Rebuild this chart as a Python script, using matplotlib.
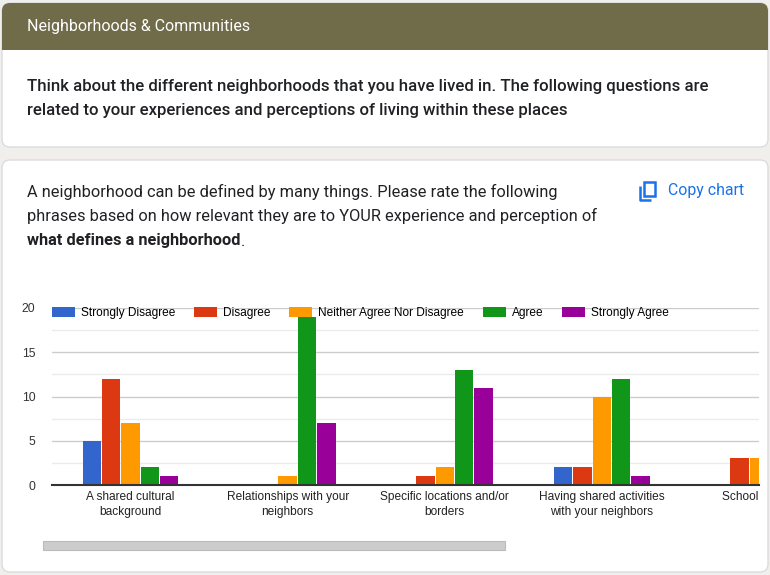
import numpy as np
import matplotlib
matplotlib.use("Agg")
import matplotlib.pyplot as plt
from matplotlib.patches import FancyBboxPatch, Rectangle
from matplotlib.transforms import Bbox, TransformedBbox

# data
categories = ["A shared cultural\nbackground",
              "Relationships with your\nneighbors",
              "Specific locations and/or\nborders",
              "Having shared activities\nwith your neighbors",
              "School district"]
series = ["Strongly Disagree", "Disagree", "Neither Agree Nor Disagree",
          "Agree", "Strongly Agree"]
strongly_disagree = [5, 0, 0, 2, 0]
disagree = [12, 0, 1, 2, 3]
neutral = [7, 1, 2, 10, 3]
agree = [2, 19, 13, 12, 0]
strongly_agree = [1, 7, 11, 1, 0]
colors = ["#3366cc", "#dc3912", "#ff9900", "#109618", "#990099"]

W, H = 770, 575
fig = plt.figure(figsize=(W / 100, H / 100), dpi=100)
fig.patch.set_facecolor("#f0efeb")

# page overlay in pixel coordinates
bg = fig.add_axes([0, 0, 1, 1])
bg.set_xlim(0, W)
bg.set_ylim(H, 0)
bg.axis("off")

def card(x0, y0, x1, y1):
    bg.add_patch(FancyBboxPatch((x0, y0), x1 - x0, y1 - y0,
                                boxstyle="round,pad=0,rounding_size=8",
                                fc="white", ec="#dadce0", lw=1))

card(2, 3, 768, 147)
bg.add_patch(FancyBboxPatch((2, 3), 766, 47, boxstyle="round,pad=0,rounding_size=8",
                            fc="#706b48", ec="none"))
bg.add_patch(Rectangle((2, 30), 766, 20, fc="#706b48", ec="none"))
card(2, 160, 768, 572)

font = "Roboto"
bg.text(27, 26, "Neighborhoods & Communities", color="white", fontsize=11.5,
        family=font, va="center")
bg.text(27, 87, "Think about the different neighborhoods that you have lived in. "
        "The following questions are", color="#202124", fontsize=12.1,
        family=font, weight="medium", va="center")
bg.text(27, 110, "related to your experiences and perceptions of living within these places",
        color="#202124", fontsize=12.1, family=font, weight="medium", va="center")

bg.text(27, 192, "A neighborhood can be defined by many things. Please rate the following",
        color="#202124", fontsize=11.8, family=font, va="center")
bg.text(27, 216, "phrases based on how relevant they are to YOUR experience and perception of",
        color="#202124", fontsize=11.8, family=font, va="center")
bold = bg.text(27, 241, "what defines a neighborhood", color="#202124", fontsize=11.8,
               family=font, weight="bold", va="center")
r = fig.canvas.get_renderer()
bb = bold.get_window_extent(r)
bg.text(bb.x1, 241, ".", color="#202124", fontsize=11.8, family=font, va="center")

# copy chart button
blue = "#1a73e8"
bg.add_patch(Rectangle((644, 182), 11, 14, fc="none", ec=blue, lw=1.8))
bg.plot([640, 640, 651], [186, 200, 200], color=blue, lw=1.8, solid_capstyle="butt")
bg.text(668, 191, "Copy chart", color=blue, fontsize=11.4, family=font, va="center")

# scrollbar
bg.add_patch(Rectangle((43, 541), 462, 9, fc="#cccccc", ec="#bbbbbb", lw=0.8))

# chart
ax_l, ax_r, ax_t, ax_b = 52, 759, 308, 485
ax = fig.add_axes([ax_l / W, (H - ax_b) / H, (ax_r - ax_l) / W, (ax_b - ax_t) / H])
ax.set_facecolor("none")
values = [strongly_disagree, disagree, neutral, agree, strongly_agree]
x = np.arange(len(categories))
slot = 0.123
for j, (name, vals) in enumerate(zip(series, values)):
    ax.bar(x + (j - 2) * slot, vals, width=slot - 0.006, color=colors[j],
           label=name, zorder=3)

ax.set_xlim(-0.5, 3.98)
ax.set_ylim(0, 20)
ax.set_yticks([0, 5, 10, 15, 20])
ax.set_yticks([2.5, 7.5, 12.5, 17.5], minor=True)
ax.grid(axis="y", which="major", color="#cccccc", lw=1, zorder=0)
ax.grid(axis="y", which="minor", color="#ebebeb", lw=1, zorder=0)
ax.set_xticks(x)
ax.set_xticklabels(categories, fontsize=8.6, family="Liberation Sans", color="#222222",
                   linespacing=1.35)
# the chart is scrolled: anything past the card's inner edge is cut off
clip = TransformedBbox(Bbox([[0, 0], [ax_r / W, 1]]), fig.transFigure)
for lab in ax.get_xticklabels():
    lab.set_clip_box(clip)
    lab.set_clip_on(True)
for lab in ax.get_yticklabels():
    lab.set_fontsize(8.8)
    lab.set_family("Liberation Sans")
    lab.set_color("#333333")
ax.tick_params(axis="both", which="both", length=0)
ax.tick_params(axis="y", pad=12)
ax.tick_params(axis="x", pad=4)
for s in ["top", "right", "left"]:
    ax.spines[s].set_visible(False)
ax.spines["bottom"].set_color("#333333")
ax.spines["bottom"].set_linewidth(1.5)
ax.spines["bottom"].set_zorder(4)

ax.legend(loc="upper left", bbox_to_anchor=(0.0, 1.005), ncol=5, frameon=False,
          prop={"family": "Liberation Sans", "size": 8.6}, handlelength=1.9,
          handleheight=0.85, handletextpad=0.5, columnspacing=1.6, borderaxespad=0,
          borderpad=0)

fig.savefig("out.png", dpi=100, facecolor=fig.get_facecolor())
